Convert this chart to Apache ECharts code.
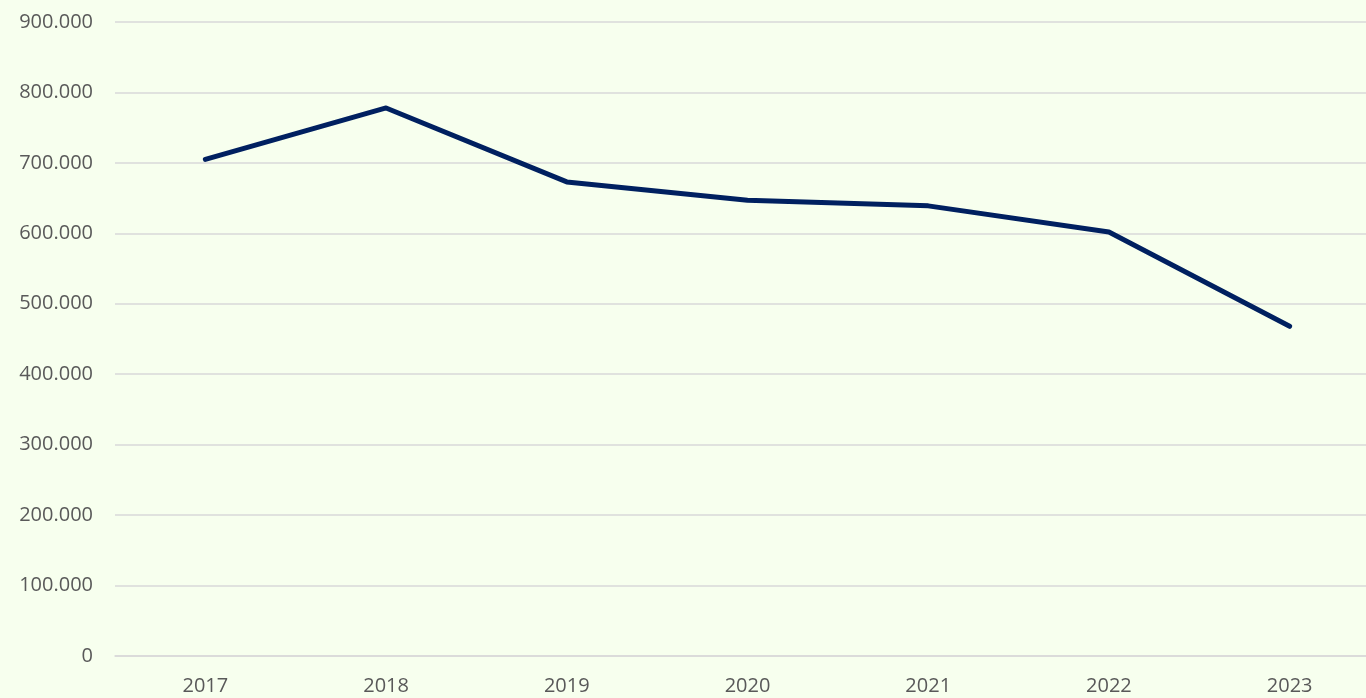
<!DOCTYPE html>
<html>
<head>
<meta charset="utf-8">
<script src="https://cdn.jsdelivr.net/npm/echarts@6/dist/echarts.min.js"></script>
<style>
  html, body { margin: 0; padding: 0; background: #f7ffee; overflow: hidden; }
  #chart { width: 1380px; height: 698px; }
</style>
</head>
<body>
<div id="chart"></div>
<script>
const years = ["2017", "2018", "2019", "2020", "2021", "2022", "2023"];
const values = [705, 778, 673, 647, 639, 602, 468];

const chart = echarts.init(document.getElementById("chart"));

const fmt = (v) => (v === 0 ? "0" : v.toFixed(3));

chart.setOption({
  backgroundColor: "#f7ffee",
  animation: false,
  grid: { left: 115, right: 0, top: 22, bottom: 42 },
  xAxis: {
    type: "category",
    data: years,
    boundaryGap: true,
    axisLine: { lineStyle: { color: "#d9d9d9", width: 1.5 } },
    axisTick: { show: false },
    axisLabel: {
      color: "#595959",
      fontSize: 20,
      fontFamily: "Open Sans",
      margin: 20
    }
  },
  yAxis: {
    type: "value",
    min: 0,
    max: 900,
    interval: 100,
    axisLine: { show: false },
    axisTick: { show: false },
    splitLine: { lineStyle: { color: "#d9d9d9", width: 1.5 } },
    axisLabel: {
      color: "#595959",
      fontSize: 20,
      fontFamily: "Open Sans",
      margin: 22,
      formatter: fmt
    }
  },
  series: [
    {
      type: "line",
      data: values,
      symbol: "none",
      lineStyle: { color: "#002060", width: 5, cap: "round", join: "round" }
    }
  ]
});
</script>
</body>
</html>
